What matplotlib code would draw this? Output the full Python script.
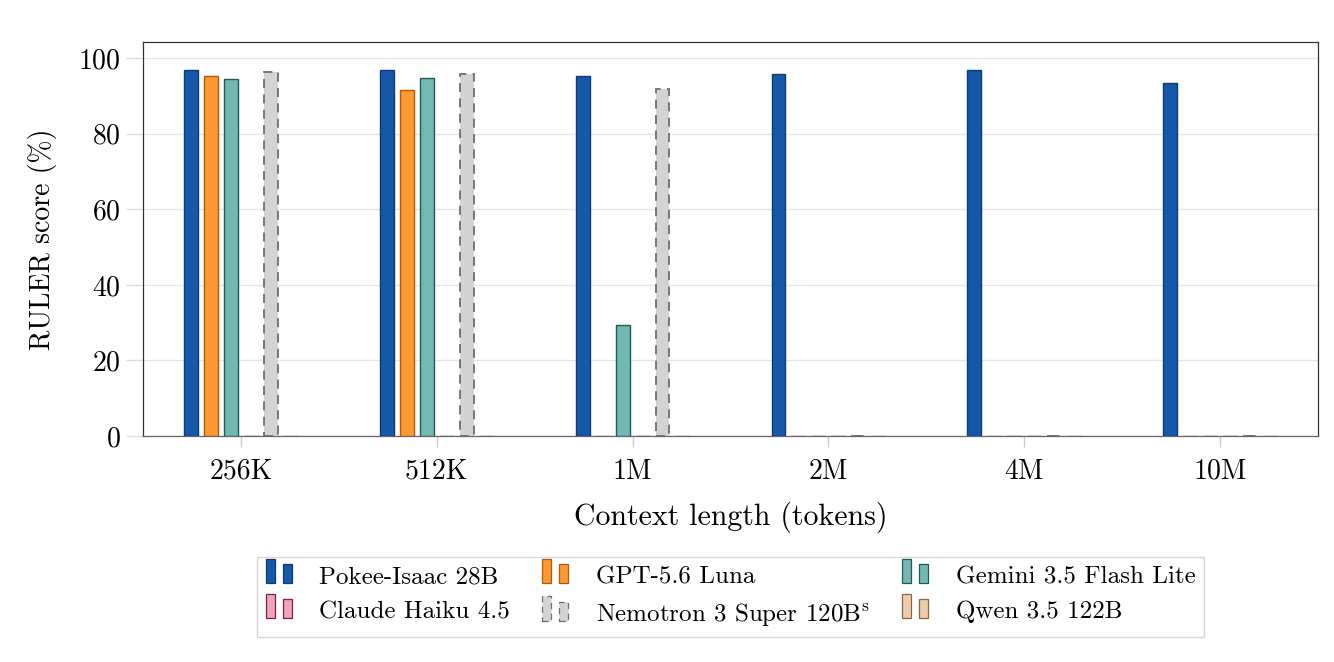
import numpy as np
import matplotlib
matplotlib.use("Agg")
import matplotlib.pyplot as plt
from matplotlib.legend_handler import HandlerBase
from matplotlib.patches import Rectangle

plt.rcParams['font.family'] = ['cmr10']
plt.rcParams['mathtext.fontset'] = 'cm'
plt.rcParams['axes.formatter.use_mathtext'] = True

contexts = ['256K', '512K', '1M', '2M', '4M', '10M']
pokee = [97.0, 96.8, 95.2, 95.9, 96.8, 93.4]
gpt = [95.2, 91.5, 0, 0, 0, 0]
gemini = [94.6, 94.8, 29.4, 0, 0, 0]
claude = [0, 0, 0, 0, 0, 0]
nemotron = [96.3, 95.8, 91.8, 0, 0, 0]
qwen = [0, 0, 0, 0, 0, 0]

series = [
    ('Pokee-Isaac 28B', pokee, '#1558a8', '#0c3b78', '-'),
    ('GPT-5.6 Luna', gpt, '#ff9933', '#b35a00', '-'),
    ('Gemini 3.5 Flash Lite', gemini, '#74b8b4', '#1d5c58', '-'),
    ('Claude Haiku 4.5', claude, '#eba6bd', '#8a1a3c', '-'),
    ('Nemotron 3 Super 120B$^{\\mathrm{s}}$', nemotron, '#d3d3d3', '#6e6e6e', (0, (5, 3.5))),
    ('Qwen 3.5 122B', qwen, '#eecba9', '#8a6646', '-'),
]


class TwoBars(HandlerBase):
    # pgfplots style legend image: two small bars
    def create_artists(self, legend, orig_handle, xdescent, ydescent,
                       width, height, fontsize, trans):
        fc = orig_handle.get_facecolor()
        ec = orig_handle.get_edgecolor()
        ls = orig_handle.get_linestyle()
        w = width * 0.35
        r1 = Rectangle((-xdescent, -ydescent), w, height * 1.4,
                       facecolor=fc, edgecolor=ec, linestyle=ls, lw=0.9, transform=trans)
        r2 = Rectangle((-xdescent + width * 0.65, -ydescent), w, height * 1.1,
                       facecolor=fc, edgecolor=ec, linestyle=ls, lw=0.9, transform=trans)
        return [r1, r2]


fig = plt.figure(figsize=(13.34, 6.62), dpi=100)
ax = fig.add_axes([0.1072, 0.3414, 0.8808, 0.5952])

x = np.arange(len(contexts))
width = 0.071
step = 0.102
handles = []
for i, (name, vals, fc, ec, ls) in enumerate(series):
    off = (i - 2.5) * step
    lw = 1.3 if ls != '-' else 1.0
    bars = ax.bar(x + off, vals, width, color=fc, edgecolor=ec, linewidth=lw,
                  linestyle=ls, label=name, zorder=3)
    handles.append(bars[0])

ax.set_xlim(-0.5, 5.5)
ax.set_ylim(0, 104.3)
ax.set_yticks([0, 20, 40, 60, 80, 100])
ax.set_xticks(x)
ax.set_xticklabels(contexts)
ax.grid(axis='y', color='#e6e6e6', linewidth=1.0, zorder=0)
ax.tick_params(axis='y', length=12, color='#dddddd', width=1.0, labelsize=20, pad=4)
ax.tick_params(axis='x', length=8, color='#cccccc', width=1.0, labelsize=20, pad=8)
for s in ax.spines.values():
    s.set_color('#333333')
    s.set_linewidth(0.9)
ax.spines['bottom'].set_color('#666666')

ax.set_xlabel('Context length (tokens)', fontsize=21.5, labelpad=12)
ax.set_ylabel('RULER score (%)', fontsize=20, labelpad=15)

# pgfplots fills the legend row by row
order = [0, 3, 1, 4, 2, 5]
fig.legend([handles[k] for k in order], [series[k][0] for k in order],
           handler_map={h: TwoBars() for h in handles},
           loc='upper center', bbox_to_anchor=(0.5476, 0.1586), ncol=3,
           fontsize=18, frameon=True, fancybox=False, edgecolor='#cccccc',
           handlelength=1.04, handleheight=0.7, handletextpad=1.1,
           columnspacing=1.3, labelspacing=0.5, borderpad=0.35, borderaxespad=0)

fig.savefig('out.png', dpi=100)
